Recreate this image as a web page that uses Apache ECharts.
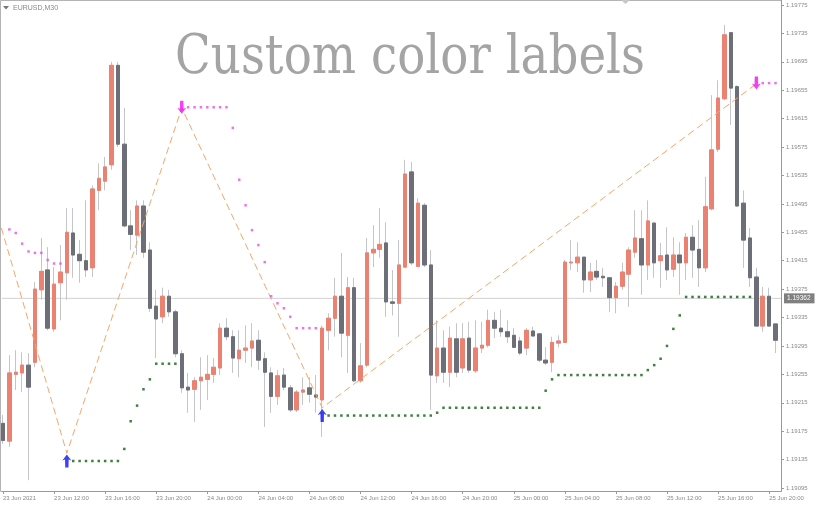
<!DOCTYPE html>
<html><head><meta charset="utf-8">
<script src="https://cdn.jsdelivr.net/npm/echarts@6/dist/echarts.min.js"></script>
<style>html,body{margin:0;padding:0;background:#fff}#c{width:816px;height:507px}</style>
</head><body><div id="c"></div>
<script>
const symbolName = 'EURUSD,M30';
const titleText = 'Custom color labels';
const bidPrice = 1.19362;

// M30 bars, bar index 0 = 23 Jun 2021 08:00
const opens = [1.19186,1.19161,1.19255,1.19257,1.19268,1.19272,1.19374,1.19402,1.19319,1.19384,
1.19398,1.19454,1.19424,1.19415,1.19405,1.19514,1.19527,1.19550,1.19690,1.19579,
1.19464,1.19451,1.19492,1.19430,1.19351,1.19336,1.19365,1.19343,1.19284,1.19237,
1.19234,1.19246,1.19248,1.19255,1.19264,1.19320,1.19308,1.19277,1.19289,1.19292,
1.19303,1.19277,1.19257,1.19224,1.19254,1.19236,1.19205,1.19230,1.19236,1.19226,
1.19219,1.19317,1.19334,1.19365,1.19310,1.19377,1.19246,1.19268,1.19426,1.19431,
1.19440,1.19357,1.19355,1.19406,1.19540,1.19407,1.19493,1.19409,1.19253,1.19292,
1.19258,1.19305,1.19264,1.19306,1.19260,1.19292,1.19296,1.19331,1.19320,1.19315,
1.19310,1.19302,1.19292,1.19316,1.19312,1.19275,1.19272,1.19299,1.19300,1.19412,
1.19412,1.19420,1.19388,1.19400,1.19393,1.19391,1.19363,1.19379,1.19396,1.19427,
1.19446,1.19409,1.19468,1.19415,1.19423,1.19403,1.19423,1.19412,1.19448,1.19431,
1.19405,1.19488,1.19572,1.19643,1.19736,1.19660,1.19496,1.19447,1.19392,1.19323,
1.19365,1.19326];
const closes = [1.19162,1.19257,1.19258,1.19268,1.19237,1.19375,1.19400,1.19320,1.19382,1.19399,
1.19455,1.19423,1.19415,1.19402,1.19516,1.19531,1.19547,1.19690,1.19579,1.19464,
1.19452,1.19492,1.19427,1.19348,1.19333,1.19365,1.19343,1.19284,1.19236,1.19233,
1.19246,1.19251,1.19255,1.19265,1.19320,1.19308,1.19278,1.19289,1.19292,1.19302,
1.19275,1.19258,1.19224,1.19253,1.19237,1.19205,1.19230,1.19233,1.19227,1.19223,
1.19320,1.19334,1.19365,1.19313,1.19377,1.19246,1.19267,1.19426,1.19431,1.19438,
1.19357,1.19355,1.19409,1.19537,1.19412,1.19496,1.19409,1.19254,1.19292,1.19258,
1.19306,1.19258,1.19305,1.19261,1.19292,1.19296,1.19331,1.19320,1.19315,1.19308,
1.19293,1.19285,1.19317,1.19309,1.19275,1.19271,1.19300,1.19302,1.19413,1.19413,
1.19420,1.19388,1.19399,1.19392,1.19391,1.19363,1.19379,1.19399,1.19430,1.19447,
1.19409,1.19471,1.19412,1.19422,1.19402,1.19423,1.19412,1.19448,1.19430,1.19405,
1.19491,1.19571,1.19644,1.19733,1.19658,1.19492,1.19444,1.19391,1.19323,1.19365,
1.19323,1.19303];
const lows = [1.19157,1.19153,1.19233,1.19230,1.19106,1.19265,1.19360,1.19317,1.19315,1.19331,
1.19360,1.19391,1.19384,1.19392,1.19392,1.19486,1.19514,1.19543,1.19575,1.19462,
1.19430,1.19423,1.19419,1.19343,1.19278,1.19327,1.19336,1.19279,1.19229,1.19201,
1.19188,1.19205,1.19219,1.19243,1.19254,1.19303,1.19257,1.19251,1.19271,1.19265,
1.19261,1.19181,1.19201,1.19212,1.19233,1.19202,1.19202,1.19212,1.19215,1.19201,
1.19167,1.19289,1.19308,1.19279,1.19257,1.19244,1.19243,1.19265,1.19406,1.19419,
1.19336,1.19338,1.19308,1.19405,1.19409,1.19406,1.19406,1.19205,1.19243,1.19243,
1.19237,1.19251,1.19257,1.19257,1.19257,1.19285,1.19293,1.19306,1.19308,1.19299,
1.19292,1.19282,1.19282,1.19308,1.19272,1.19268,1.19258,1.19293,1.19299,1.19402,
1.19399,1.19370,1.19371,1.19388,1.19378,1.19343,1.19341,1.19374,1.19350,1.19419,
1.19367,1.19388,1.19391,1.19377,1.19388,1.19392,1.19367,1.19388,1.19391,1.19378,
1.19399,1.19486,1.19568,1.19641,1.19606,1.19491,1.19405,1.19378,1.19322,1.19315,
1.19323,1.19285];
const highs = [1.19198,1.19282,1.19289,1.19286,1.19285,1.19385,1.19447,1.19434,1.19406,1.19437,
1.19489,1.19489,1.19444,1.19500,1.19521,1.19552,1.19561,1.19695,1.19695,1.19630,
1.19486,1.19500,1.19500,1.19441,1.19374,1.19377,1.19374,1.19346,1.19289,1.19257,
1.19251,1.19279,1.19282,1.19278,1.19327,1.19334,1.19317,1.19317,1.19324,1.19327,
1.19317,1.19286,1.19265,1.19261,1.19264,1.19240,1.19233,1.19251,1.19251,1.19254,
1.19324,1.19341,1.19391,1.19426,1.19392,1.19391,1.19299,1.19447,1.19465,1.19489,
1.19469,1.19402,1.19444,1.19557,1.19554,1.19503,1.19496,1.19430,1.19331,1.19317,
1.19322,1.19327,1.19327,1.19329,1.19331,1.19329,1.19346,1.19343,1.19346,1.19331,
1.19320,1.19308,1.19320,1.19322,1.19313,1.19293,1.19308,1.19310,1.19416,1.19444,
1.19441,1.19420,1.19412,1.19416,1.19405,1.19392,1.19385,1.19412,1.19434,1.19486,
1.19486,1.19500,1.19468,1.19440,1.19462,1.19448,1.19441,1.19454,1.19465,1.19472,
1.19533,1.19648,1.19669,1.19747,1.19737,1.19662,1.19514,1.19461,1.19405,1.19378,
1.19377,1.19326];

const timeTickBars = [0,8,16,24,32,40,48,56,64,72,80,88,96,104,112,120];
const timeTickLabels = ['23 Jun 2021','23 Jun 12:00','23 Jun 16:00','23 Jun 20:00','24 Jun 00:00','24 Jun 04:00','24 Jun 08:00','24 Jun 12:00','24 Jun 16:00','24 Jun 20:00','25 Jun 00:00','25 Jun 04:00','25 Jun 08:00','25 Jun 12:00','25 Jun 16:00','25 Jun 20:00'];
const priceTicks = [1.19095,1.19135,1.19175,1.19215,1.19255,1.19295,1.19335,1.19375,1.19415,1.19455,1.19495,1.19535,1.19575,1.19615,1.19655,1.19695,1.19735,1.19775];

// support (green) trailing dots
const supportBars = [11,12,13,14,15,16,17,18,19,20,21,22,23,24,25,26,27,
51,52,53,54,55,56,57,58,59,60,61,62,63,64,65,66,67,68,
69,70,71,72,73,74,75,76,77,78,79,80,81,82,83,84,85,86,
87,88,89,90,91,92,93,94,95,96,97,98,99,100,101,102,103,104,105,106,
107,108,109,110,111,112,113,114,115,116,117];
const supportValues = [1.19133,1.19133,1.19133,1.19133,1.19133,1.19133,1.19133,1.19133,1.19150,1.19189,1.19211,1.19234,1.19248,1.19270,1.19270,1.19270,1.19270,
1.19197,1.19197,1.19197,1.19197,1.19197,1.19197,1.19197,1.19197,1.19197,1.19197,1.19197,1.19197,1.19197,1.19197,1.19197,1.19197,1.19197,1.19201,
1.19208,1.19208,1.19208,1.19208,1.19208,1.19208,1.19208,1.19208,1.19208,1.19208,1.19208,1.19208,1.19208,1.19208,1.19208,1.19208,1.19232,1.19248,
1.19254,1.19254,1.19254,1.19254,1.19254,1.19254,1.19254,1.19254,1.19254,1.19254,1.19254,1.19254,1.19254,1.19254,1.19261,1.19268,1.19277,1.19295,1.19319,1.19338,
1.19364,1.19364,1.19364,1.19364,1.19364,1.19364,1.19364,1.19364,1.19364,1.19364,1.19364];

// resistance (magenta) trailing dots
const resistBars = [1,2,3,4,5,6,7,8,9,
29,30,31,32,33,34,35,36,37,38,39,40,41,42,43,44,45,46,47,48,49,
119,120,121];
const resistValues = [1.19459,1.19454,1.19439,1.19428,1.19426,1.19426,1.19416,1.19411,1.19411,
1.19631,1.19631,1.19631,1.19631,1.19631,1.19631,1.19631,1.19602,1.19529,1.19493,1.19458,1.19437,1.19413,1.19365,1.19355,1.19348,1.19336,1.19320,1.19320,1.19320,1.19320,
1.19665,1.19665,1.19665];

const buyArrowBars = [10, 50];
const buyArrowValues = [1.19133, 1.19197];
const sellArrowBars = [28, 118];
const sellArrowValues = [1.19631, 1.19665];

const zigzagBars = [-0.25, 10, 28, 50, 118];
const zigzagValues = [1.19461, 1.19144, 1.19630, 1.19208, 1.19664];

const xMin = -0.172, xMax = 121.86;

const bullColor = '#ea8171';
const bearColor = '#6c6f77';
const wickColor = '#c4c4cc';

const wickData = opens.map((o, i) => [i, o, closes[i], lows[i], highs[i]]);
const bodyData = opens.map((o, i) => [i, o, closes[i], Math.min(o, closes[i]), Math.max(o, closes[i])]);
const zip = (a, b) => a.map((v, i) => [v, b[i]]);

const upArrow = 'path://M5,0 L10,6 L7,5 L6.8,13 L3.2,13 L3,5 L0,6 Z';
const downArrow = 'path://M5,13 L10,7 L7,8 L6.8,0 L3.2,0 L3,8 L0,7 Z';

const chart = echarts.init(document.getElementById('c'), null, {renderer: 'canvas'});
const axisGray = '#9a9a9a';
const textGray = '#8a8a8a';
chart.setOption({
  animation: false,
  backgroundColor: '#ffffff',
  grid: {left: 0, top: 0, right: 35, bottom: 16, containLabel: false},
  xAxis: {
    type: 'value', min: xMin, max: xMax,
    axisLine: {show: true, onZero: false, lineStyle: {color: axisGray, width: 1}},
    axisTick: {show: true, inside: false, customValues: timeTickBars, length: 3, lineStyle: {color: axisGray}},
    axisLabel: {show: true, customValues: timeTickBars, fontSize: 6, color: textGray, align: 'left', margin: 4,
      fontFamily: 'Liberation Sans',
      formatter: v => timeTickLabels[timeTickBars.indexOf(Math.round(v))] || ''},
    splitLine: {show: false}
  },
  yAxis: {
    type: 'value', position: 'right', min: 1.190908, max: 1.19782,
    axisLine: {show: true, onZero: false, lineStyle: {color: axisGray, width: 1}},
    axisTick: {show: true, inside: false, customValues: priceTicks, length: 3, lineStyle: {color: axisGray}},
    axisLabel: {show: true, customValues: priceTicks, fontSize: 6, color: textGray, margin: 5,
      fontFamily: 'Liberation Sans', formatter: v => v.toFixed(5)},
    splitLine: {show: false}
  },
  graphic: [
    {type: 'rect', shape: {x: 0.5, y: 0.5, width: 781, height: 491}, style: {fill: 'none', stroke: '#b4b4b4', lineWidth: 1}, z: -1, silent: true},
    {type: 'polygon', shape: {points: [[3, 6], [9, 6], [6, 9.5]]}, style: {fill: '#777'}, silent: true},
    {type: 'text', x: 13, y: 8, style: {text: symbolName, font: '7px "Liberation Sans"', fill: '#8a8a8a', verticalAlign: 'middle'}, silent: true},
    {type: 'polygon', shape: {points: [[621, 0], [630, 0], [625.5, 4]]}, style: {fill: '#c8c8c8'}, silent: true},
    {type: 'text', x: 175, y: 59, scaleX: 0.85, originX: 0, originY: 0, z: 1,
      style: {text: titleText, font: '55px "DejaVu Serif"', fill: '#a4a4a4', verticalAlign: 'middle'}, silent: true}
  ],
  series: [
    {
      type: 'line', name: 'bid', data: [[xMin, bidPrice], [xMax, bidPrice]], symbol: 'none', z: 1, silent: true,
      lineStyle: {color: '#d2d2d2', width: 1},
      endLabel: {show: true, formatter: bidPrice.toFixed(5), color: '#ffffff', backgroundColor: '#808080',
        fontSize: 6.5, fontFamily: 'Liberation Sans', padding: [2, 4, 1, 3], distance: 3}
    },
    {
      type: 'candlestick', name: 'wicks', data: wickData, encode: {x: 0, y: [1, 2, 3, 4]},
      barWidth: 4, z: 2, silent: true,
      itemStyle: {color: 'transparent', color0: 'transparent', borderColor: wickColor, borderColor0: wickColor, borderWidth: 1}
    },
    {
      type: 'candlestick', name: 'bodies', data: bodyData, encode: {x: 0, y: [1, 2, 3, 4]},
      barWidth: 4, z: 3, silent: true,
      itemStyle: {color: bullColor, color0: bearColor, borderColor: bullColor, borderColor0: bearColor, borderWidth: 1}
    },
    {
      type: 'line', name: 'zigzag', data: zip(zigzagBars, zigzagValues), symbol: 'none', z: 4, silent: true,
      lineStyle: {color: '#f2a66a', width: 1, type: [7, 4]}
    },
    {
      type: 'scatter', name: 'support', data: zip(supportBars, supportValues), symbol: 'rect', symbolSize: 2.5, z: 5, silent: true,
      itemStyle: {color: '#0f5f14'}
    },
    {
      type: 'scatter', name: 'resistance', data: zip(resistBars, resistValues), symbol: 'rect', symbolSize: 2.5, z: 5, silent: true,
      itemStyle: {color: '#e651e6'}
    },
    {
      type: 'scatter', name: 'buy', data: zip(buyArrowBars, buyArrowValues), symbol: upArrow, symbolSize: [9, 13], z: 6, silent: true,
      itemStyle: {color: '#1010f0'}
    },
    {
      type: 'scatter', name: 'sell', data: zip(sellArrowBars, sellArrowValues), symbol: downArrow, symbolSize: [9, 13], z: 6, silent: true,
      itemStyle: {color: '#f010f0'}
    }
  ]
});
</script>
</body></html>
